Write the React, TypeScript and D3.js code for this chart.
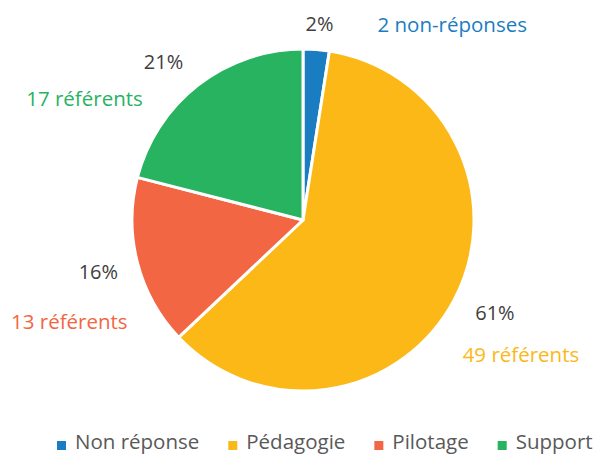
import React from "react";
import { arc, pie, PieArcDatum } from "d3";

// chart data
const categories = ["Non réponse", "Pédagogie", "Pilotage", "Support"];
const counts = [2, 49, 13, 17];
const pctLabels = ["2%", "61%", "16%", "21%"];
const countLabels = ["2 non-réponses", "49 référents", "13 référents", "17 référents"];
const colors = ["#1a7dc2", "#fbb817", "#f26644", "#27b35f"];

// label nudges from the outer centroid (layout only)
const pctNudge = [[1, 10], [15, 7], [-11, 9], [-17, 7]];
const countNudge = [[59, 11], [41, 49], [-40, 59], [-96, 44]];

const W = 598;
const H = 455;
const cx = 303;
const cy = 220;
const radius = 171;
const FONT = "'Open Sans', sans-serif";

function measure(text: string, size: number) {
  const ctx = document.createElement("canvas").getContext("2d");
  if (!ctx) return text.length * size * 0.55;
  ctx.font = `${size}px 'Open Sans'`;
  return ctx.measureText(text).width;
}

interface Slice {
  name: string;
  value: number;
  pct: string;
  label: string;
  color: string;
}

export default function App() {
  const data: Slice[] = categories.map((name, i) => ({
    name,
    value: counts[i],
    pct: pctLabels[i],
    label: countLabels[i],
    color: colors[i],
  }));

  const arcs = pie<Slice>().sort(null).value((d) => d.value)(data);
  const arcGen = arc<PieArcDatum<Slice>>().innerRadius(0).outerRadius(radius);
  const labelArc = arc<PieArcDatum<Slice>>().innerRadius(200).outerRadius(200);

  // legend layout
  const legendSize = 20.5;
  let lx = 57;
  const legend = data.map((d) => {
    const item = { ...d, x: lx };
    lx += 9 + 9 + measure(d.name, legendSize) + 29;
    return item;
  });

  return (
    <svg
      width={W}
      height={H}
      style={{ position: "absolute", left: 0, top: 0, background: "#fff" }}
      fontFamily={FONT}
    >
      <g transform={`translate(${cx},${cy})`}>
        {arcs.map((a, i) => (
          <path key={i} d={arcGen(a) ?? ""} fill={a.data.color} stroke="#fff" strokeWidth={3} strokeLinejoin="round" />
        ))}
        {arcs.map((a, i) => {
          const [x, y] = labelArc.centroid(a);
          return (
            <React.Fragment key={`l${i}`}>
              <text
                x={x + pctNudge[i][0]}
                y={y + pctNudge[i][1]}
                textAnchor="middle"
                fontSize={20}
                fill="#404040"
              >
                {a.data.pct}
              </text>
              <text
                x={x + countNudge[i][0]}
                y={y + countNudge[i][1]}
                textAnchor={i === 0 ? "start" : "middle"}
                fontSize={20.5}
                fill={a.data.color}
              >
                {a.data.label}
              </text>
            </React.Fragment>
          );
        })}
      </g>
      <g>
        {legend.map((d, i) => (
          <g key={i} transform={`translate(${d.x},0)`}>
            <rect x={0} y={441} width={9} height={9} fill={d.color} />
            <text x={18} y={449} fontSize={legendSize} fill="#595959">
              {d.name}
            </text>
          </g>
        ))}
      </g>
    </svg>
  );
}
